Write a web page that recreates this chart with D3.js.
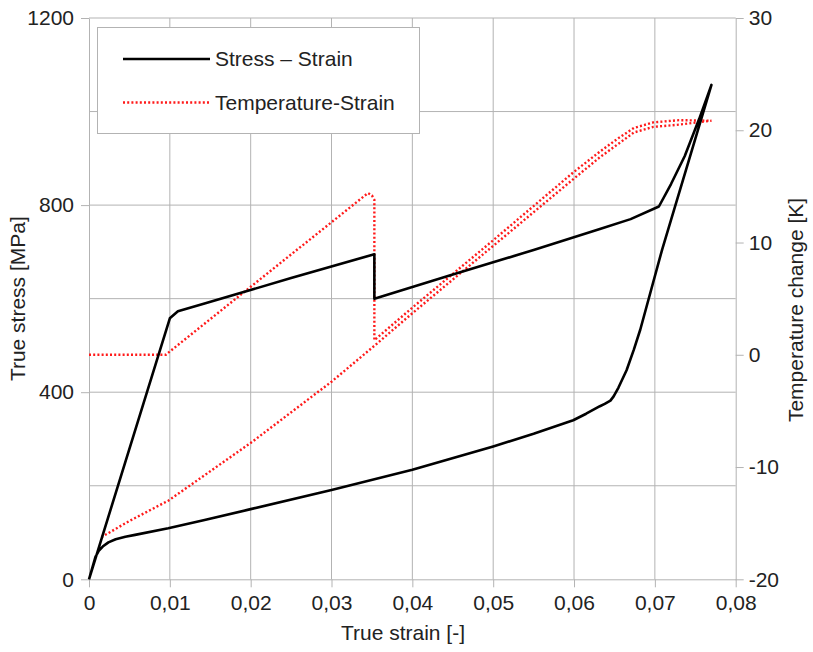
<!DOCTYPE html>
<html>
<head>
<meta charset="utf-8">
<script src="https://cdn.jsdelivr.net/npm/d3@7"></script>
<style>
    body { margin: 0; background: #fff; }
    text { font-family: "Liberation Sans", Arial, sans-serif; fill: #222; }
    .grid line { stroke: #b3b3b3; stroke-width: 1; }
    .axis path, .axis line { stroke: #b3b3b3; stroke-width: 1; }
    .axis text { font-size: 21px; fill: #222; }
</style>
</head>
<body>
<div id="chart"></div>
<script>
// Stress - strain loop (black, left axis)
const stressStrain = [0, 0.0100, 0.0110, 0.0144, 0.0250, 0.0353, 0.0353, 0.0447, 0.0550, 0.0632, 0.0670, 0.0705, 0.0720, 0.0737, 0.0755, 0.0770,
    0.0709, 0.0682, 0.0674, 0.0665, 0.0655, 0.0649, 0.0645, 0.0638, 0.0632, 0.0615, 0.0599, 0.0550, 0.0500, 0.0400, 0.0300, 0.0200,
    0.0143, 0.0098, 0.0057, 0.0045, 0.0033, 0.0024, 0.0017, 0.0012, 0.0008, 0.0004, 0];
const stressValues = [0, 558, 573, 590, 644, 695, 600, 650, 704, 749, 770, 797, 845, 905, 985, 1057,
    705, 534, 491, 447, 410, 391, 382, 375, 370, 354, 340, 311, 284, 234, 191, 150,
    127, 109, 95, 91, 85.5, 79, 70, 61, 48, 24, 0];

// Temperature - strain loop (red dotted, right axis)
const tempStrain = [0, 0.0095, 0.0100, 0.0345, 0.0350, 0.0353, 0.0353, 0.0400, 0.0500, 0.0600, 0.0632, 0.0655, 0.0674, 0.0698, 0.0730, 0.0770,
    0.0730, 0.0698, 0.0674, 0.0655, 0.0632, 0.0600, 0.0500, 0.0400, 0.0354, 0.0300, 0.0201, 0.0098, 0.0050, 0.0014];
const tempValues = [0, 0, 0.3, 14.4, 14.2, 13.8, 1.3, 4.2, 10.2, 16.3, 18.1, 19.3, 20.2, 20.7, 20.9, 20.85,
    20.5, 20.3, 19.8, 18.8, 17.6, 15.7, 9.7, 3.7, 0.86, -2.4, -7.8, -13.0, -14.8, -16.3];

const xTicks = [0, 0.01, 0.02, 0.03, 0.04, 0.05, 0.06, 0.07, 0.08];
const stressTicks = [0, 400, 800, 1200];
const stressGrid = [200, 400, 600, 800, 1000, 1200];
const tempTicks = [-20, -10, 0, 10, 20, 30];

const legendItems = ["Stress \u2013 Strain", "Temperature-Strain"];

class LoopChart {
    constructor(_config) {
        this.config = {
            parentElement: _config.parentElement,
            containerWidth: 813,
            containerHeight: 652,
            margin: { top: 18, right: 77.3, bottom: 72.7, left: 89 }
        };
        this.initVis();
    }

    initVis() {
        let vis = this;
        let { parentElement, containerWidth, containerHeight, margin } = vis.config;

        vis.svg = d3.select(parentElement)
            .append("svg")
            .attr("width", containerWidth)
            .attr("height", containerHeight);

        let left = margin.left, right = containerWidth - margin.right;
        let top = margin.top, bottom = containerHeight - margin.bottom;

        vis.x = d3.scaleLinear().domain([0, 0.08]).range([left, right]);
        vis.yL = d3.scaleLinear().domain([0, 1200]).range([bottom, top]);
        vis.yR = d3.scaleLinear().domain([-20, 30]).range([bottom, top]);

        // Grid

        let grid = vis.svg.append("g").attr("class", "grid");
        grid.selectAll("line.v")
            .data(xTicks.slice(1, -1))
            .join("line")
            .attr("class", "v")
            .attr("x1", d => vis.x(d)).attr("x2", d => vis.x(d))
            .attr("y1", top).attr("y2", bottom);
        grid.selectAll("line.h")
            .data(stressGrid)
            .join("line")
            .attr("class", "h")
            .attr("x1", left).attr("x2", right)
            .attr("y1", d => vis.yL(d)).attr("y2", d => vis.yL(d));

        // Axes

        const comma = d => d === 0 ? "0" : d3.format(".2f")(d).replace(".", ",");

        vis.svg.append("g")
            .attr("class", "axis")
            .attr("transform", `translate(0,${bottom})`)
            .call(d3.axisBottom(vis.x).tickValues(xTicks).tickFormat(comma).tickSize(8).tickPadding(8).tickSizeOuter(0));

        vis.svg.append("g")
            .attr("class", "axis")
            .attr("transform", `translate(${left},0)`)
            .call(d3.axisLeft(vis.yL).tickValues(stressTicks).tickFormat(d => String(d)).tickSize(8).tickPadding(7).tickSizeOuter(0));

        vis.svg.append("g")
            .attr("class", "axis")
            .attr("transform", `translate(${right},0)`)
            .call(d3.axisRight(vis.yR).tickValues(tempTicks).tickFormat(d => String(d)).tickSize(8).tickPadding(5).tickSizeOuter(0));

        // Axis titles

        vis.svg.append("text")
            .attr("text-anchor", "middle")
            .attr("x", 403)
            .attr("y", 633)
            .attr("dy", ".35em")
            .style("font-size", "21px")
            .text("True strain [-]");

        vis.svg.append("text")
            .attr("text-anchor", "middle")
            .attr("dy", ".35em")
            .attr("transform", `translate(18,${(top + bottom) / 2}) rotate(-90)`)
            .style("font-size", "21px")
            .text("True stress [MPa]");

        vis.svg.append("text")
            .attr("text-anchor", "middle")
            .attr("dy", ".35em")
            .attr("transform", `translate(796,310) rotate(-90)`)
            .style("font-size", "21px")
            .text("Temperature change [K]");

        vis.renderVis();
    }

    renderVis() {
        let vis = this;

        let stressLine = d3.line()
            .x(i => vis.x(stressStrain[i]))
            .y(i => vis.yL(stressValues[i]));

        let tempLine = d3.line()
            .x(i => vis.x(tempStrain[i]))
            .y(i => vis.yR(tempValues[i]));

        vis.svg.append("path")
            .datum(d3.range(tempStrain.length))
            .attr("fill", "none")
            .attr("stroke", "#ff1a1a")
            .attr("stroke-width", 2.4)
            .attr("stroke-dasharray", "2,2.2")
            .attr("d", tempLine);

        vis.svg.append("path")
            .datum(d3.range(stressStrain.length))
            .attr("fill", "none")
            .attr("stroke", "#000")
            .attr("stroke-width", 2.6)
            .attr("stroke-linejoin", "round")
            .attr("d", stressLine);

        // Legend

        let legend = vis.svg.append("g");
        legend.append("rect")
            .attr("x", 97.5).attr("y", 27.5)
            .attr("width", 322).attr("height", 106)
            .attr("fill", "#fff")
            .attr("stroke", "#b3b3b3");

        legend.selectAll("line")
            .data(legendItems)
            .join("line")
            .attr("x1", 123).attr("x2", 210)
            .attr("y1", (d, i) => 59 + i * 43.5).attr("y2", (d, i) => 59 + i * 43.5)
            .attr("stroke", (d, i) => i === 0 ? "#000" : "#ff1a1a")
            .attr("stroke-width", (d, i) => i === 0 ? 2.6 : 2.4)
            .attr("stroke-dasharray", (d, i) => i === 0 ? null : "2,2.2");

        legend.selectAll("text")
            .data(legendItems)
            .join("text")
            .attr("x", 215)
            .attr("y", (d, i) => 59 + i * 43.5)
            .attr("dy", ".35em")
            .style("font-size", "21px")
            .text(d => d);
    }
}

new LoopChart({ parentElement: "#chart" });
</script>
</body>
</html>
